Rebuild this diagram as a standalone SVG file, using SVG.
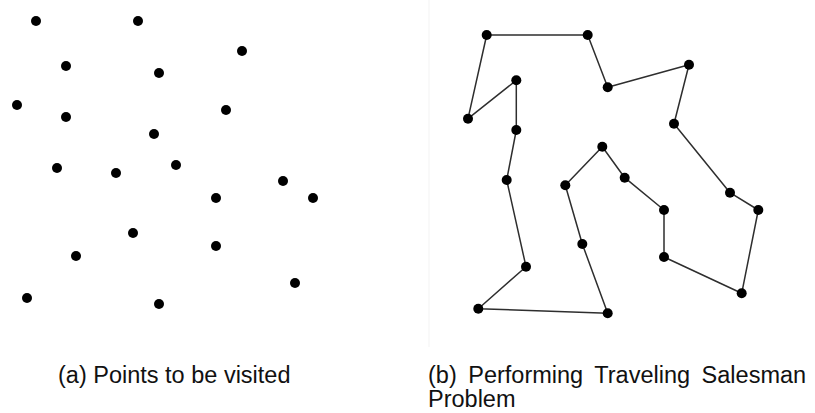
<svg xmlns="http://www.w3.org/2000/svg" width="815" height="413" viewBox="0 0 815 413">
  <style>
    .pt { fill: #000; }
    .route { fill: none; stroke: #2e2e2e; stroke-width: 1.5; stroke-linejoin: round; }
    .cap { font-family: "Liberation Sans", Arial, Helvetica, sans-serif; font-size: 23.5px; fill: #111; }
  </style>
  <rect width="815" height="413" fill="#fff"/>
  <line x1="429" y1="0" x2="429" y2="347" stroke="#f3f3f3" stroke-width="1"/>
  <g id="panel-a">
    <circle class="pt" cx="36" cy="21" r="5"/>
    <circle class="pt" cx="138" cy="21" r="5"/>
    <circle class="pt" cx="242" cy="51" r="5"/>
    <circle class="pt" cx="66" cy="66" r="5"/>
    <circle class="pt" cx="159" cy="73" r="5"/>
    <circle class="pt" cx="17" cy="105" r="5"/>
    <circle class="pt" cx="66" cy="117" r="5"/>
    <circle class="pt" cx="226" cy="110" r="5"/>
    <circle class="pt" cx="154" cy="134" r="5"/>
    <circle class="pt" cx="57" cy="168" r="5"/>
    <circle class="pt" cx="116" cy="173" r="5"/>
    <circle class="pt" cx="176" cy="165" r="5"/>
    <circle class="pt" cx="283" cy="181" r="5"/>
    <circle class="pt" cx="313" cy="198" r="5"/>
    <circle class="pt" cx="216" cy="198" r="5"/>
    <circle class="pt" cx="133" cy="233" r="5"/>
    <circle class="pt" cx="216" cy="246" r="5"/>
    <circle class="pt" cx="76" cy="256" r="5"/>
    <circle class="pt" cx="295" cy="283" r="5"/>
    <circle class="pt" cx="27" cy="298" r="5"/>
    <circle class="pt" cx="159" cy="304" r="5"/>
  </g>
  <g id="connectors">
    <polygon class="route" points="486.7,35 587.7,35 607.7,87.3 689,64.7 674,123.7 730,192.7 758.3,210 741.7,293.3 664,257 664,210 624.7,177.7 602.3,146.7 565.3,185.3 582.3,244 607.7,313.3 478.3,308.7 526,266.7 506.7,180 516.3,130 516.3,80.3 468,118.7"/>
  </g>
  <g id="panel-b">
    <circle class="pt" cx="486.7" cy="35" r="5"/>
    <circle class="pt" cx="587.7" cy="35" r="5"/>
    <circle class="pt" cx="607.7" cy="87.3" r="5"/>
    <circle class="pt" cx="689" cy="64.7" r="5"/>
    <circle class="pt" cx="674" cy="123.7" r="5"/>
    <circle class="pt" cx="730" cy="192.7" r="5"/>
    <circle class="pt" cx="758.3" cy="210" r="5"/>
    <circle class="pt" cx="741.7" cy="293.3" r="5"/>
    <circle class="pt" cx="664" cy="257" r="5"/>
    <circle class="pt" cx="664" cy="210" r="5"/>
    <circle class="pt" cx="624.7" cy="177.7" r="5"/>
    <circle class="pt" cx="602.3" cy="146.7" r="5"/>
    <circle class="pt" cx="565.3" cy="185.3" r="5"/>
    <circle class="pt" cx="582.3" cy="244" r="5"/>
    <circle class="pt" cx="607.7" cy="313.3" r="5"/>
    <circle class="pt" cx="478.3" cy="308.7" r="5"/>
    <circle class="pt" cx="526" cy="266.7" r="5"/>
    <circle class="pt" cx="506.7" cy="180" r="5"/>
    <circle class="pt" cx="516.3" cy="130" r="5"/>
    <circle class="pt" cx="516.3" cy="80.3" r="5"/>
    <circle class="pt" cx="468" cy="118.7" r="5"/>
  </g>
  <g id="captions">
    <text class="cap" x="58" y="383">(a) Points to be visited</text>
    <text class="cap" x="428" y="383" word-spacing="5">(b) Performing Traveling Salesman</text>
    <text class="cap" x="428" y="407">Problem</text>
  </g>
</svg>
